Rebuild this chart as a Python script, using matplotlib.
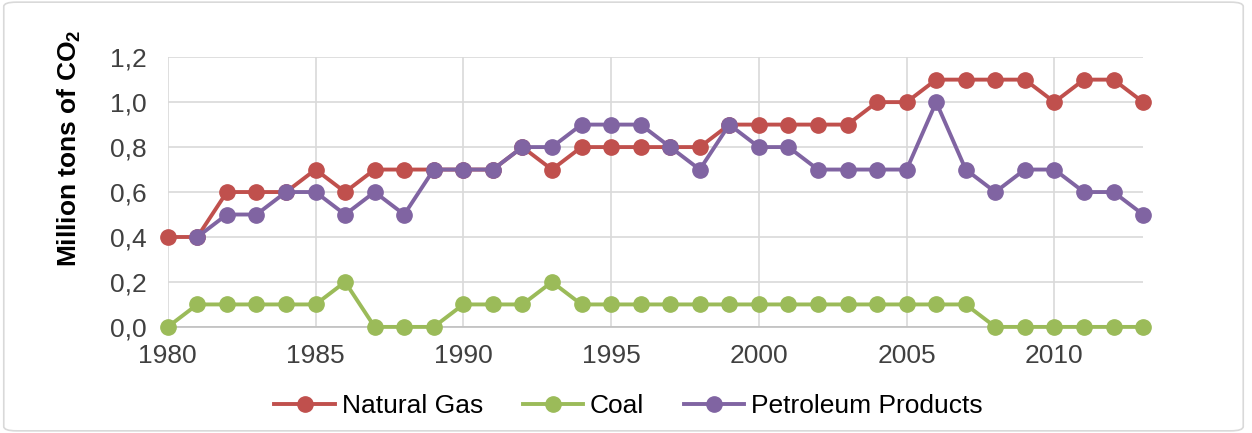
import numpy as np
import matplotlib.pyplot as plt
from matplotlib.ticker import FuncFormatter, MultipleLocator
from matplotlib.patches import FancyBboxPatch

plt.rcParams['font.family'] = ['Liberation Sans', 'DejaVu Sans']

# ======================
# DATA
# ======================
years = list(range(1980, 2014))

natural_gas = [0.4, 0.4, 0.6, 0.6, 0.6, 0.7, 0.6, 0.7, 0.7, 0.7,
               0.7, 0.7, 0.8, 0.7, 0.8, 0.8, 0.8, 0.8, 0.8, 0.9,
               0.9, 0.9, 0.9, 0.9, 1.0, 1.0, 1.1, 1.1, 1.1, 1.1,
               1.0, 1.1, 1.1, 1.0]

coal = [0.0, 0.1, 0.1, 0.1, 0.1, 0.1, 0.2, 0.0, 0.0, 0.0,
        0.1, 0.1, 0.1, 0.2, 0.1, 0.1, 0.1, 0.1, 0.1, 0.1,
        0.1, 0.1, 0.1, 0.1, 0.1, 0.1, 0.1, 0.1, 0.0, 0.0,
        0.0, 0.0, 0.0, 0.0]

petroleum = [np.nan, 0.4, 0.5, 0.5, 0.6, 0.6, 0.5, 0.6, 0.5, 0.7,
             0.7, 0.7, 0.8, 0.8, 0.9, 0.9, 0.9, 0.8, 0.7, 0.9,
             0.8, 0.8, 0.7, 0.7, 0.7, 0.7, 1.0, 0.7, 0.6, 0.7,
             0.7, 0.6, 0.6, 0.5]

series = [
    ("Natural Gas", natural_gas, "#C0504D"),
    ("Coal", coal, "#9BBB59"),
    ("Petroleum Products", petroleum, "#8064A2"),
]

# ======================
# PLOT
# ======================
fig = plt.figure(figsize=(12.52, 4.33), dpi=100)
ax = fig.add_axes([0.134, 0.245, 0.779, 0.623])

for name, vals, col in series:
    ax.plot(years, vals, color=col, lw=2.8, marker="o", ms=11,
            label=name, clip_on=False, zorder=3)

ax.set_xlim(1980, 2013)
ax.set_ylim(0, 1.2)
ax.xaxis.set_major_locator(MultipleLocator(5))
ax.yaxis.set_major_locator(MultipleLocator(0.2))
ax.yaxis.set_major_formatter(FuncFormatter(lambda v, p: f"{v:.1f}".replace(".", ",")))

ax.grid(True, color="#D9D9D9", lw=1.2)
ax.set_axisbelow(True)
for s in ["top", "right", "left"]:
    ax.spines[s].set_visible(False)
ax.spines["bottom"].set_color("#BFBFBF")
ax.spines["bottom"].set_linewidth(1.2)
ax.tick_params(length=0, labelsize=19, colors="#404040")
ax.tick_params(axis="x", pad=12)
ax.tick_params(axis="y", pad=15)

# y label (placed by hand, sits above the axes centre like in the original)
fig.text(69 / 1252, 1 - 148 / 433, "Million tons of CO$_\\mathregular{2}$",
         rotation=90, ha="center", va="center", fontsize=19,
         fontweight="bold", color="#000000")

fig.legend(loc="center", bbox_to_anchor=(0.502, 0.062), ncol=3,
           frameon=False, fontsize=19, handlelength=2.3, columnspacing=1.5,
           handletextpad=0.25, labelcolor="#000000")

# chart border
fig.patches.append(FancyBboxPatch((0.003, 0.005), 0.990, 0.99,
                                  boxstyle="round,pad=0,rounding_size=0.01",
                                  transform=fig.transFigure, fill=False,
                                  edgecolor="#D9D9D9", lw=1.2))

fig.savefig("out.png", dpi=100)
